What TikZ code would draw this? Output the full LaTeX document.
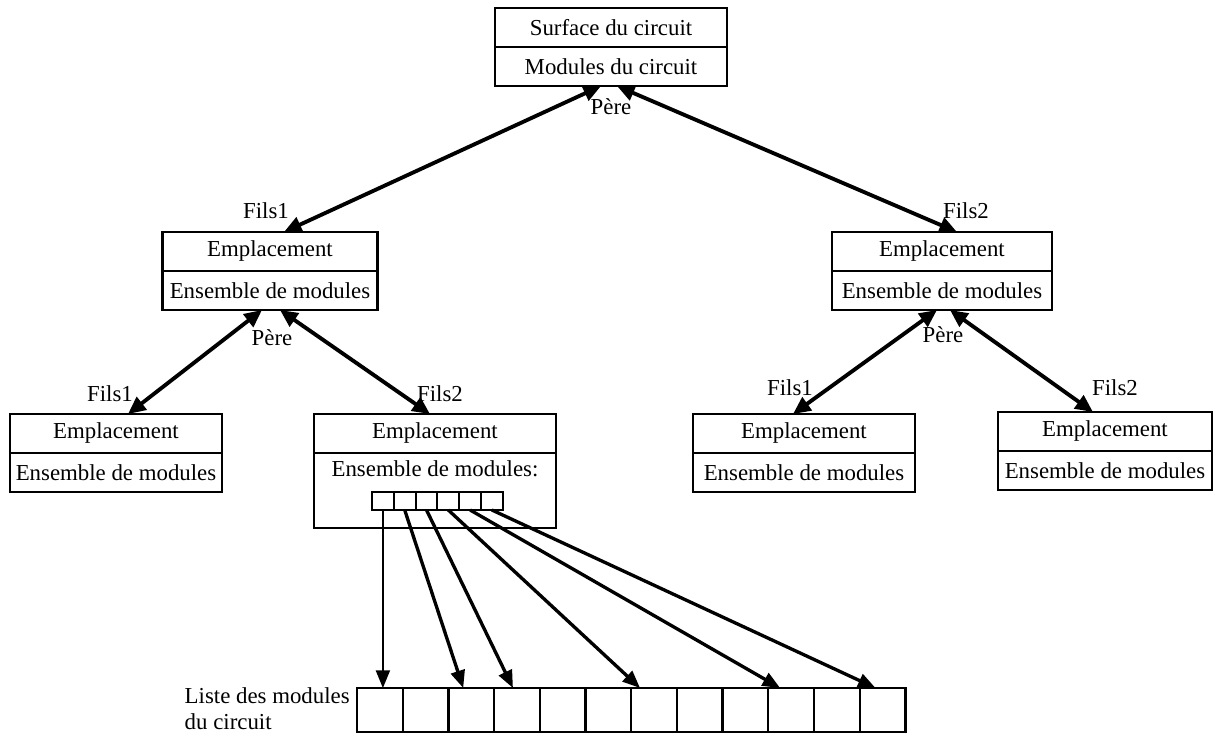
\documentclass[tikz,border=0pt]{standalone}
\usepackage{fontspec}
\setmainfont{Liberation Serif}
\usetikzlibrary{positioning,arrows.meta}
\begin{document}
\begin{tikzpicture}[x=0.02cm, y=-0.02cm, every node/.style={font=\fontsize{13}{15}\selectfont},
    rowbox/.style={draw, line width=1.4pt, minimum height=0.78cm, inner sep=0pt, outer sep=0pt},
    link/.style={line width=2.2pt, {Triangle[length=10pt,width=9pt]}-{Triangle[length=10pt,width=9pt]}},
    ptr/.style={line width=1.9pt, -{Triangle[length=10pt,width=8pt]}},
    slot/.style={draw, line width=1.2pt, minimum width=0.436cm, minimum height=0.36cm, inner sep=0pt, outer sep=0pt},
    listcell/.style={draw, line width=1.3pt, minimum width=0.914cm, minimum height=0.88cm, inner sep=0pt, outer sep=0pt}]
    \useasboundingbox (0,0) rectangle (1218,734);
    % racine
    \node[rowbox, minimum width=4.64cm] (surf) at (611,27.5) {Surface du circuit};
    \node[rowbox, minimum width=4.64cm, below=0pt of surf] (modc) {Modules du circuit};
    % premier niveau
    \node[rowbox, minimum width=4.3cm] (empA) at (270,251.5) {Emplacement};
    \node[rowbox, minimum width=4.3cm, below=0pt of empA] (ensA) {Ensemble de modules};
    \node[rowbox, minimum width=4.4cm] (empB) at (942,251.5) {Emplacement};
    \node[rowbox, minimum width=4.4cm, below=0pt of empB] (ensB) {Ensemble de modules};
    % second niveau
    \node[rowbox, minimum width=4.24cm] (empC) at (116,433.5) {Emplacement};
    \node[rowbox, minimum width=4.24cm, below=0pt of empC] (ensC) {Ensemble de modules};
    \node[rowbox, minimum width=4.84cm] (empD) at (435,433.5) {Emplacement};
    \node[rowbox, minimum width=4.84cm, minimum height=1.5cm, below=0pt of empD] (ensD) {};
    \node[below=1pt of ensD.north] (ensDtxt) {Ensemble de modules:};
    \node[rowbox, minimum width=4.44cm] (empE) at (804,433.5) {Emplacement};
    \node[rowbox, minimum width=4.44cm, below=0pt of empE] (ensE) {Ensemble de modules};
    \node[rowbox, minimum width=4.28cm] (empF) at (1105,431.5) {Emplacement};
    \node[rowbox, minimum width=4.28cm, below=0pt of empF] (ensF) {Ensemble de modules};
    % liens pere / fils
    \draw[link] ([xshift=-0.2cm]modc.south) -- ([xshift=0.28cm]empA.north);
    \draw[link] ([xshift=0.12cm]modc.south) -- ([xshift=0.3cm]empB.north);
    \draw[link] ([xshift=-0.16cm]ensA.south) -- ([xshift=0.24cm]empC.north);
    \draw[link] ([xshift=0.2cm]ensA.south) -- ([xshift=-0.1cm]empD.north);
    \draw[link] ([xshift=-0.1cm]ensB.south) -- ([xshift=-0.22cm]empE.north);
    \draw[link] ([xshift=0.16cm]ensB.south) -- ([xshift=-0.24cm]empF.north);
    \node (pereR) at (611,107) {Père};
    \node (pereA) at (272,338) {Père};
    \node (pereB) at (943,335) {Père};
    \node (filsA) at (266,211) {Fils1};
    \node (filsB) at (966,211) {Fils2};
    \node (filsC) at (110,394) {Fils1};
    \node (filsD) at (440,394) {Fils2};
    \node (filsE) at (790,388) {Fils1};
    \node (filsF) at (1115,388) {Fils2};
    % tableau des modules et liste
    \foreach \i in {0,...,5}
        \node[slot] (s\i) at (382.9+\i*21.8,501) {};
    \foreach \i in {0,...,11}
        \node[listcell] (l\i) at (379.85+\i*45.7,710) {};
    \node[align=left, anchor=east, inner sep=0pt] (liste) at (350,709) {Liste des modules\\du circuit};
    \draw[ptr, line width=0.9pt] (s0.south) -- (s0.south |- l0.north);
    \foreach \s/\t/\d in {1/2/-8, 2/3/-4, 3/6/-14, 4/9/-11, 5/11/-7}
        \draw[ptr] (s\s.south) -- ([xshift=\d*0.02cm]l\t.north);
\end{tikzpicture}
\end{document}
